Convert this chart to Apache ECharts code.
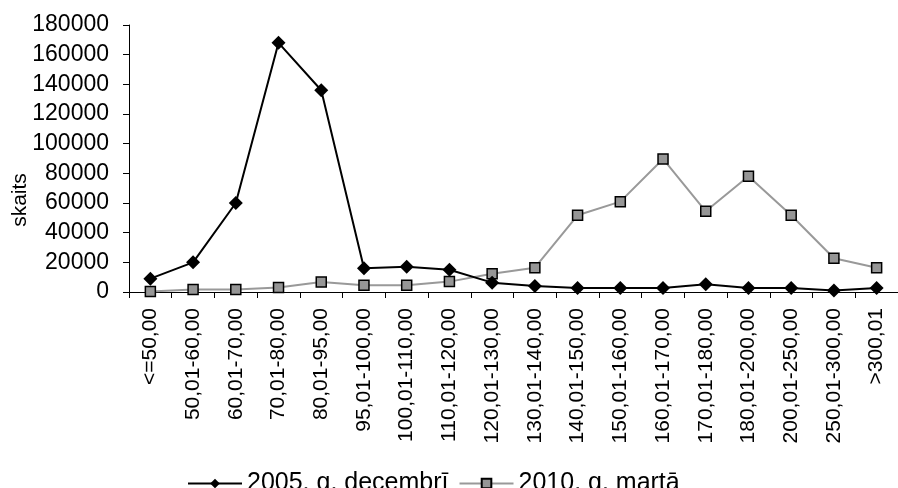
<!DOCTYPE html>
<html>
<head>
<meta charset="utf-8">
<script src="https://cdn.jsdelivr.net/npm/echarts@6/dist/echarts.min.js"></script>
<style>
html,body{margin:0;padding:0;background:#fff;}
#chart{width:898px;height:488px;}
</style>
</head>
<body>
<div id="chart"></div>
<script>
var categories = ['<=50,00','50,01-60,00','60,01-70,00','70,01-80,00','80,01-95,00','95,01-100,00','100,01-110,00','110,01-120,00','120,01-130,00','130,01-140,00','140,01-150,00','150,01-160,00','160,01-170,00','170,01-180,00','180,01-200,00','200,01-250,00','250,01-300,00','>300,01'];
var seriesNames = ['2005. g. decembrī', '2010. g. martā'];
var dec2005 = [9000, 20000, 60000, 168000, 136000, 16000, 17000, 15000, 6300, 4000, 2700, 2700, 2700, 5200, 2700, 2700, 1000, 2700];
var mar2010 = [300, 1700, 1700, 3100, 6700, 4500, 4500, 7000, 12300, 16400, 51700, 60900, 89700, 54400, 78000, 51700, 22700, 16400];
var yTicks = {min: 0, max: 180000, interval: 20000};
var yAxisTitle = 'skaits';

var FONT = "'Liberation Sans', Arial, sans-serif";
var chart = echarts.init(document.getElementById('chart'), null, {renderer: 'canvas'});
chart.setOption({
  animation: false,
  backgroundColor: '#ffffff',
  textStyle: {fontFamily: FONT, color: '#000'},
  grid: {left: 129, top: 25, right: -8, bottom: 196, containLabel: false},
  legend: {
    left: 182, top: 466,
    itemWidth: 54, itemHeight: 12, itemGap: 10,
    textStyle: {fontFamily: FONT, fontSize: 25, color: '#000'},
    data: seriesNames
  },
  graphic: [{
    type: 'text',
    x: 20, y: 200,
    rotation: Math.PI / 2,
    style: {text: yAxisTitle, font: '21px ' + FONT, fill: '#000', textAlign: 'center', textVerticalAlign: 'middle'}
  }],
  xAxis: {
    type: 'category',
    data: categories,
    boundaryGap: true,
    axisLine: {lineStyle: {color: '#000', width: 1}},
    axisTick: {show: true, alignWithLabel: false, length: 6, lineStyle: {color: '#000'}},
    axisLabel: {rotate: 90, interval: 0, margin: 16, fontSize: 21, color: '#000', fontFamily: FONT},
    splitLine: {show: false}
  },
  yAxis: {
    type: 'value',
    min: yTicks.min, max: yTicks.max, interval: yTicks.interval,
    axisLine: {show: true, lineStyle: {color: '#000', width: 1}},
    axisTick: {show: true, length: 6, lineStyle: {color: '#000'}},
    axisLabel: {margin: 20, fontSize: 23, color: '#000', fontFamily: FONT, formatter: function (v) { return String(v); }},
    splitLine: {show: false}
  },
  series: [
    {
      name: seriesNames[0], type: 'line', data: dec2005,
      symbol: 'diamond', symbolSize: 14,
      lineStyle: {color: '#000', width: 2},
      itemStyle: {color: '#000', borderColor: '#000', borderWidth: 0},
      z: 3
    },
    {
      name: seriesNames[1], type: 'line', data: mar2010,
      symbol: 'rect', symbolSize: 10,
      lineStyle: {color: '#999999', width: 2},
      itemStyle: {color: '#969696', borderColor: '#000', borderWidth: 1.5},
      z: 2
    }
  ]
});
</script>
</body>
</html>
